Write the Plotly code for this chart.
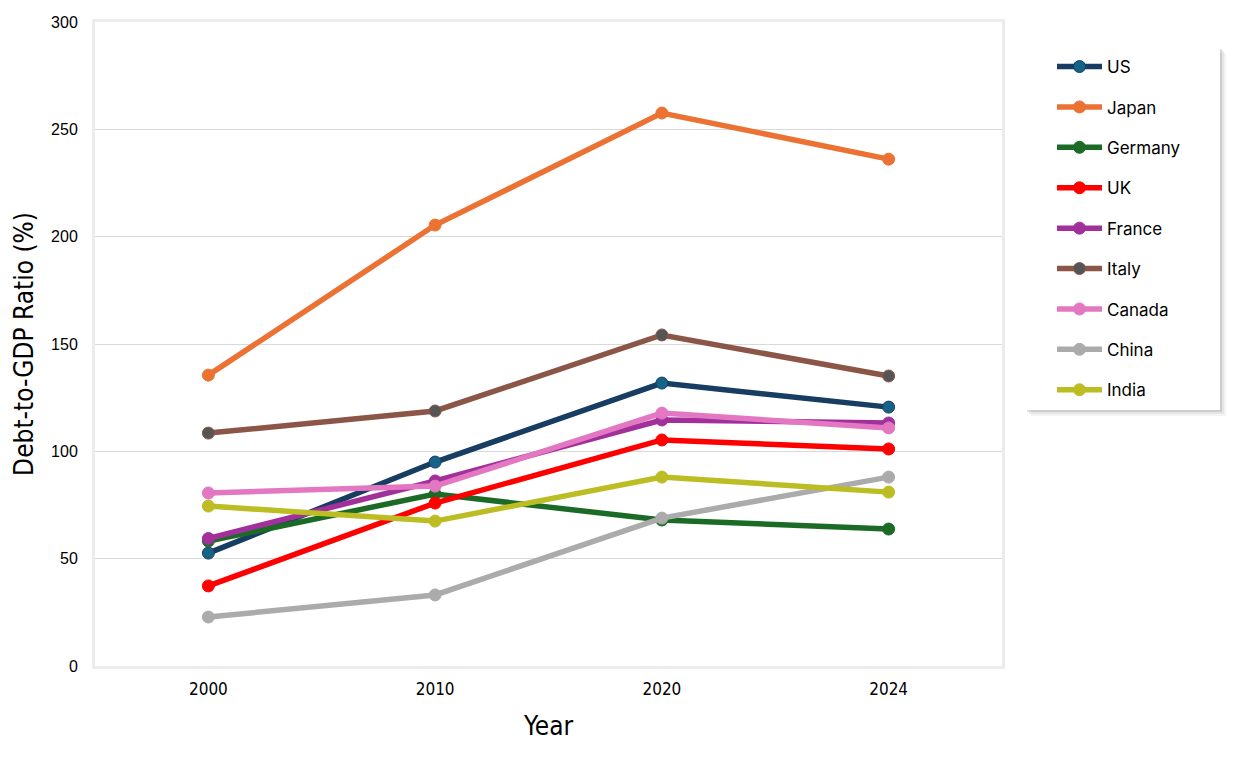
import plotly.graph_objects as go

years = ["2000", "2010", "2020", "2024"]
countries = ["US", "Japan", "Germany", "UK", "France", "Italy", "Canada", "China", "India"]
us = [52.6, 95.0, 131.8, 120.6]
japan = [135.5, 205.4, 257.6, 236.1]
germany = [58.2, 80.1, 68.0, 63.8]
uk = [37.3, 75.9, 105.3, 101.1]
france = [59.4, 86.2, 114.6, 113.2]
italy = [108.5, 118.8, 154.2, 135.1]
canada = [80.6, 83.8, 117.8, 110.9]
china = [22.8, 33.1, 68.9, 88.0]
india = [74.5, 67.5, 88.0, 81.0]
series = [us, japan, germany, uk, france, italy, canada, china, india]

line_colors = ["#173D62", "#EC7233", "#1B6B26", "#FF0000", "#A1309B", "#8B5648", "#E377C2", "#ABABAB", "#BCBD22"]
marker_colors = ["#156388", "#EC7233", "#1B6B26", "#FF0000", "#A1309B", "#555555", "#E377C2", "#ABABAB", "#BCBD22"]

fig = go.Figure()
for name, vals, lc, mc in zip(countries, series, line_colors, marker_colors):
    fig.add_trace(go.Scatter(
        x=years, y=vals, name=name, legendgroup=name, mode="lines+markers",
        line=dict(color=lc, width=5.5),
        marker=dict(color=mc, size=12, line=dict(color=lc, width=1)),
    ))

# page-pixel geometry of plot area (browser adds 8px body margin)
OFF = 8
L, R, T, B = 95, 1002, 22, 666
W, H = R - L, B - T
def px(x):
    return (x - L) / W
def py(y):
    return (B - y) / H

shapes = []
for off, op in [(6, 0.08), (4, 0.12), (2, 0.22)]:
    shapes.append(dict(type="rect", xref="paper", yref="paper",
                       x0=px(1025 + off), x1=px(1220 + off), y0=py(410 + off), y1=py(47 + off),
                       line=dict(width=0), fillcolor="rgba(120,120,120,%s)" % op, layer="above"))
shapes.append(dict(type="rect", xref="paper", yref="paper",
                   x0=px(1025), x1=px(1220), y0=py(410), y1=py(47),
                   line=dict(width=0), fillcolor="white", layer="above"))

narrow = "Liberation Sans Narrow, DejaVu Sans Condensed, sans-serif"

fig.update_layout(
    width=1242, height=772,
    margin=dict(l=L - OFF, r=1242 + OFF - R, t=T - OFF, b=772 + OFF - B),
    paper_bgcolor="white", plot_bgcolor="white",
    font=dict(family="Liberation Sans, Arial, sans-serif", color="#000000"),
    shapes=shapes,
    showlegend=True,
    legend=dict(x=px(1052), y=py(49), xanchor="left", yanchor="top",
                bgcolor="rgba(0,0,0,0)", borderwidth=0,
                font=dict(family="Inter, Noto Sans, sans-serif", size=17, color="#000000"),
                tracegroupgap=15.3, itemwidth=45, traceorder="grouped"),
    xaxis=dict(
        type="category", range=[-0.5, 3.5], automargin=False,
        title=dict(text="Year", font=dict(family=narrow, size=26), standoff=19),
        tickfont=dict(family=narrow, size=17),
        showgrid=False, showline=True, linecolor="#ECECEC", linewidth=3, mirror=True,
        ticks="outside", ticklen=6, tickcolor="rgba(0,0,0,0)", zeroline=False,
    ),
    yaxis=dict(
        range=[0, 300], tickvals=[0, 50, 100, 150, 200, 250, 300], automargin=False,
        title=dict(text="Debt-to-GDP Ratio (%)", font=dict(family=narrow, size=26), standoff=10),
        tickfont=dict(family="Liberation Sans, Arial, sans-serif", size=16),
        showgrid=True, gridcolor="#D9D9D9", gridwidth=1,
        showline=True, linecolor="#ECECEC", linewidth=3, mirror=True,
        ticks="outside", ticklen=11, tickcolor="rgba(0,0,0,0)", zeroline=False,
    ),
)

fig.write_html("out.html")
